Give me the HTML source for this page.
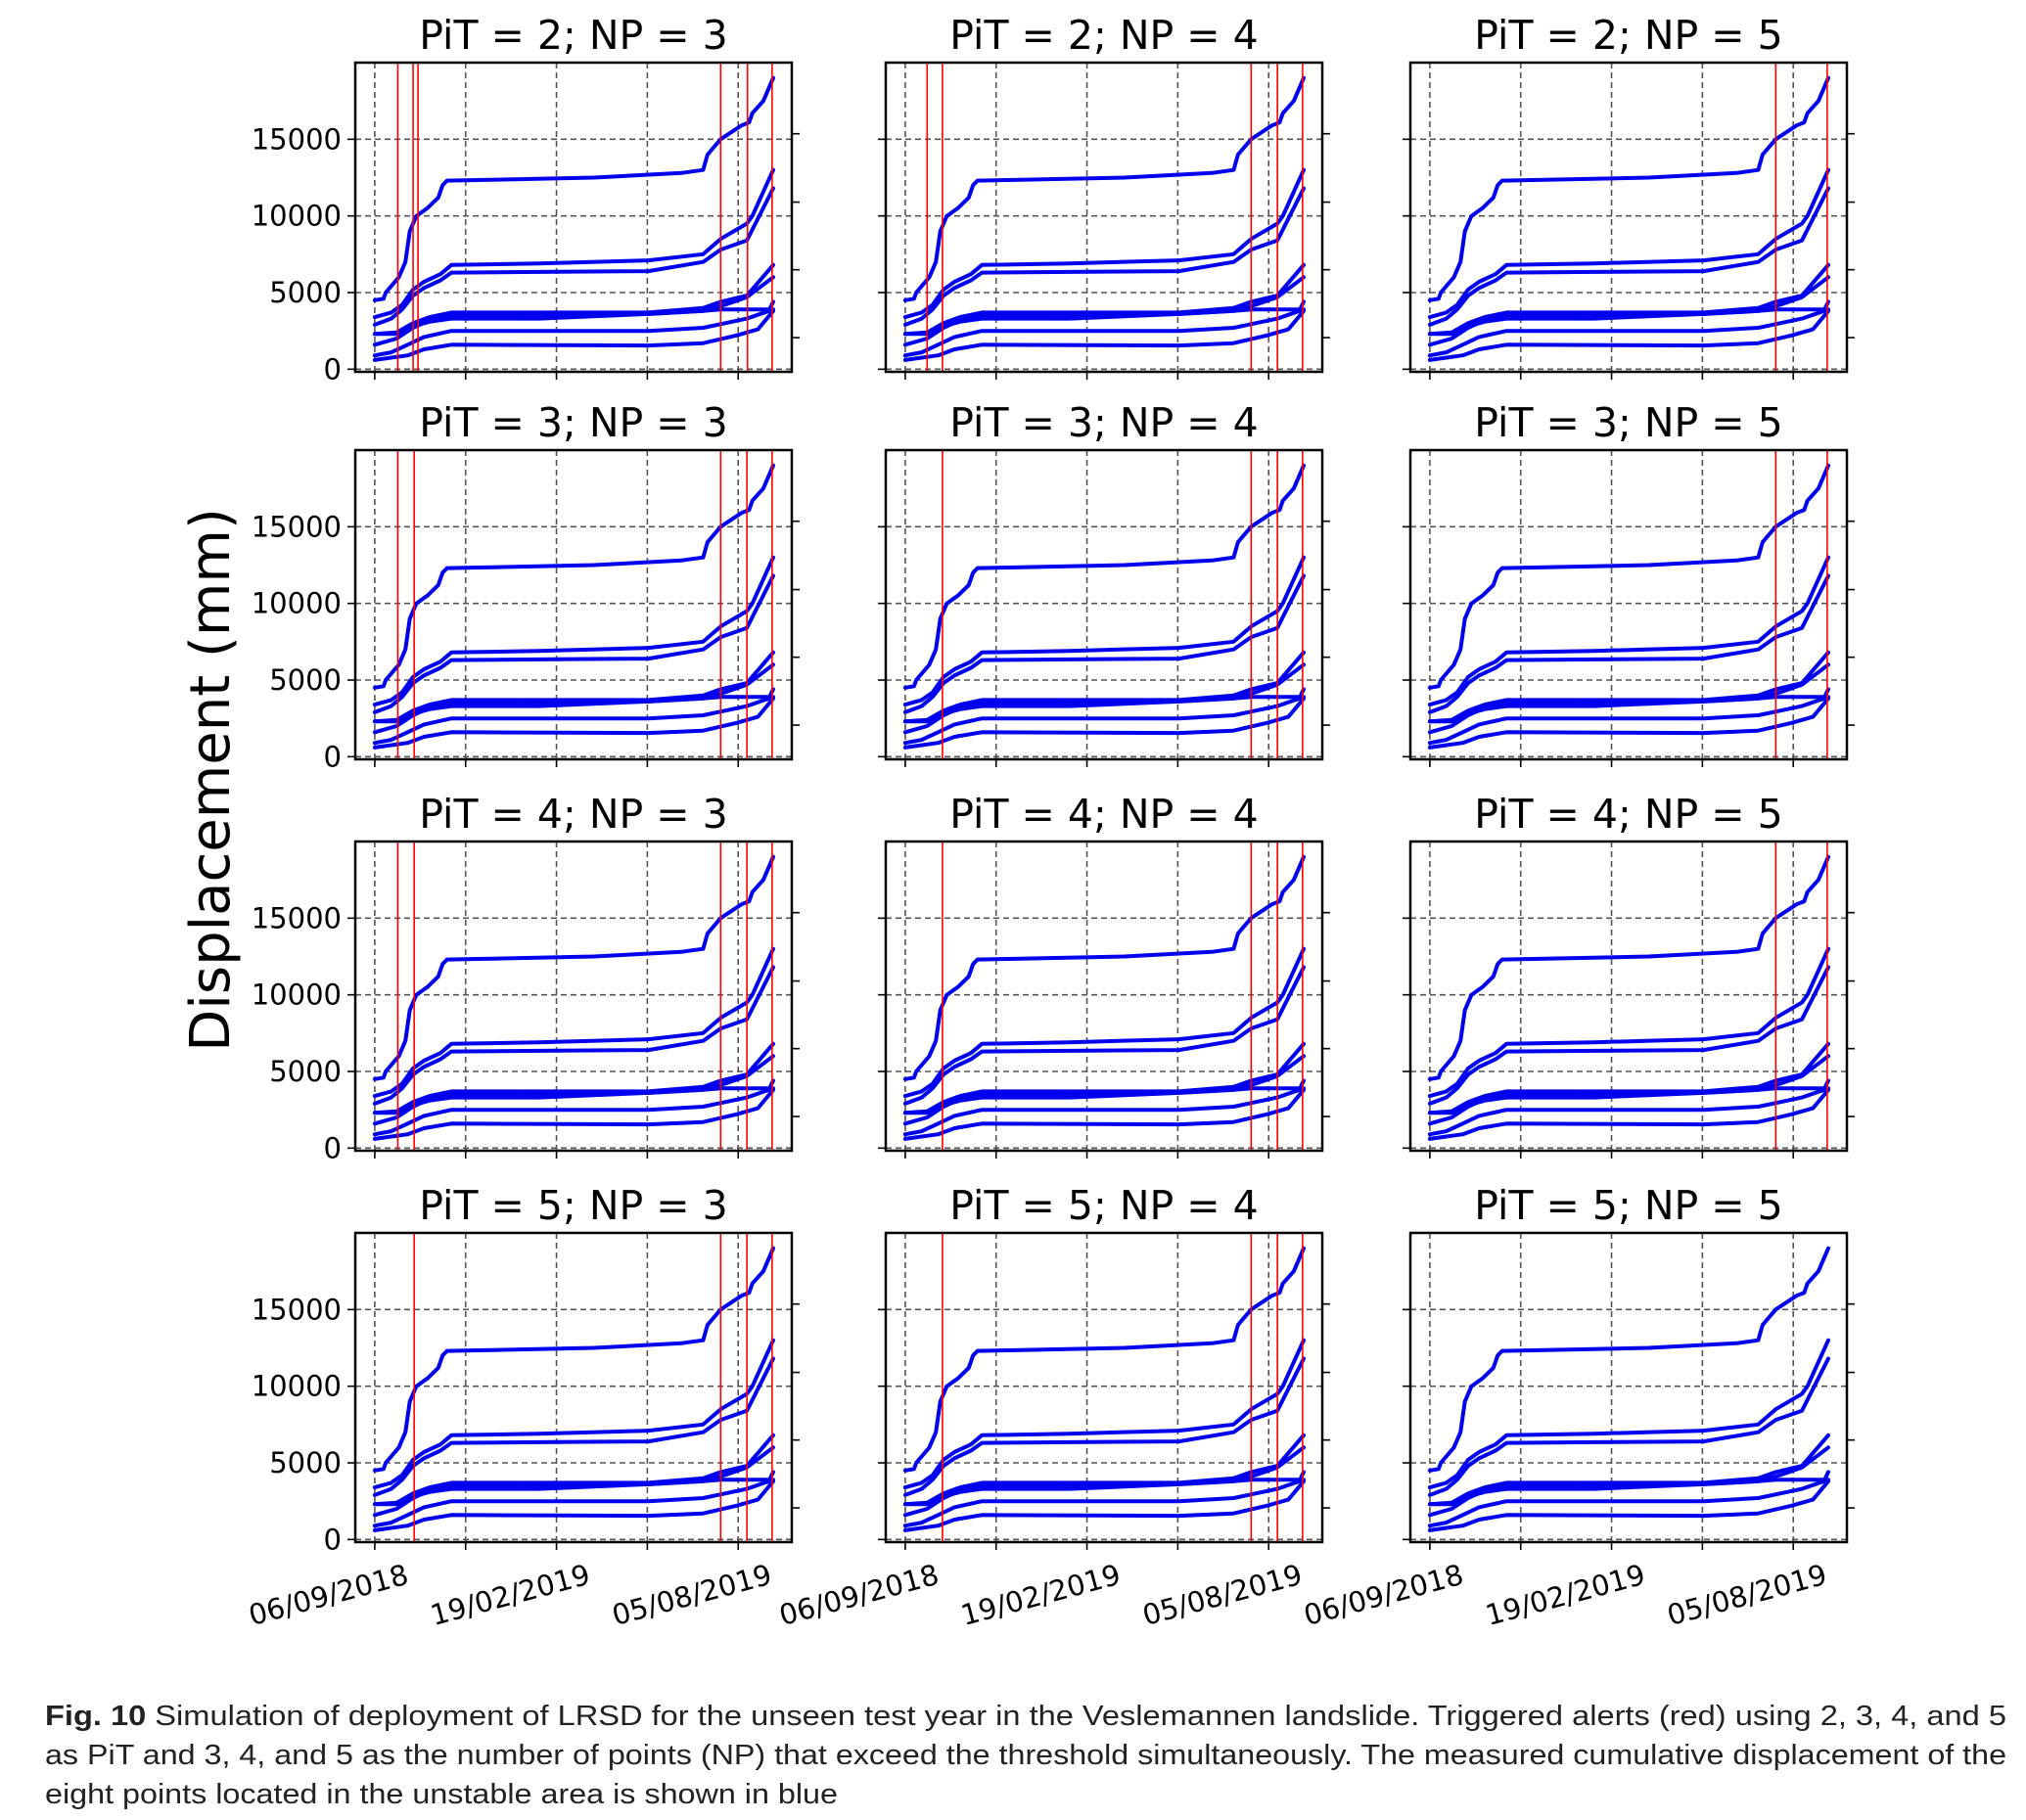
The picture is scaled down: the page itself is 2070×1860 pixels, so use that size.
<!DOCTYPE html>
<html><head><meta charset="utf-8">
<style>
html,body{margin:0;padding:0;background:#fff;}
svg{display:block;font-family:"Liberation Sans","DejaVu Sans",sans-serif;}
</style></head>
<body>
<svg id="fig" width="2070" height="1860" viewBox="0 0 2070 1860" xmlns="http://www.w3.org/2000/svg">
<text x="0" y="0" transform="translate(234,797) rotate(-90)" text-anchor="middle" font-size="56" font-family="DejaVu Sans, sans-serif">Displacement (mm)</text>
<g font-size="29" fill="#222">
<text x="46" y="1763" textLength="2004" lengthAdjust="spacingAndGlyphs"><tspan font-weight="bold">Fig. 10</tspan>  Simulation of deployment of LRSD for the unseen test year in the Veslemannen landslide. Triggered alerts (red) using 2, 3, 4, and 5</text>
<text x="46" y="1803" textLength="2004" lengthAdjust="spacingAndGlyphs">as PiT and 3, 4, and 5 as the number of points (NP) that exceed the threshold simultaneously. The measured cumulative displacement of the</text>
<text x="46" y="1843" textLength="810" lengthAdjust="spacingAndGlyphs">eight points located in the unstable area is shown in blue</text>
</g>
</svg>
<script>
const seriesDays = [
 [0,8,10,22,28,32,38,48,58,62,66,100,200,280,300,304,316,335,342,345,355,364],
 [0,15,25,35,45,60,70,150,250,300,316,340,345,364],
 [0,15,25,35,45,60,70,150,250,300,316,340,364],
 [0,20,35,50,70,150,250,300,316,340,364],
 [0,20,35,50,70,250,300,320,340,364],
 [0,20,35,50,70,150,250,300,316,364],
 [0,15,30,45,70,250,300,320,340,360,364],
 [0,30,45,70,250,300,330,350,364]
];
const seriesValues = [
 [4500,4600,5000,6000,7000,9000,10000,10500,11200,12000,12300,12350,12500,12800,13000,14000,15000,15900,16100,16700,17500,19000],
 [3400,3700,4200,5200,5700,6200,6800,6900,7100,7500,8500,9500,10000,13000],
 [2900,3300,3900,4800,5300,5800,6300,6350,6400,7000,7800,8400,11800],
 [2300,2400,3000,3400,3700,3700,3700,4000,4400,4800,6800],
 [1600,2000,2700,3200,3500,3600,3800,4200,4700,6000],
 [2300,2300,2800,3100,3300,3300,3600,3800,3900,3900],
 [900,1100,1600,2100,2500,2500,2700,3000,3300,3800,4400],
 [600,900,1300,1600,1550,1700,2200,2600,3800]
];
const pitValues = [2,3,4,5];
const npValues = [3,4,5];
const alertDays = [
 [[21,35,39.5,316,340.5,363],[20,34,316,340,363],[316,363]],
 [[21,36,316,340,363],[34,316,340,363],[316,363]],
 [[21,36,316,340,363],[34,316,340,363],[316,363]],
 [[36,316,340,363],[34,316,340,363],[]]
];
const yTicks = [0,5000,10000,15000];
const yTickLabels = ["0","5000","10000","15000"];
const xTicks = [0,83,166,249,332];
const xTickLabels = ["06/09/2018","","19/02/2019","","05/08/2019"];
const rightTicks = [2060,6490,10900,15360];

const NS="http://www.w3.org/2000/svg";
const svg=document.getElementById('fig');
const colLeft=[363,905,1441], rowTop=[64,460,860,1260], PW=446, PH=316;
const X0=-17.8, X1=381, Y0=-170, Y1=20000;
function mk(tag,attrs,parent){const e=document.createElementNS(NS,tag);for(const k in attrs)e.setAttribute(k,attrs[k]);(parent||svg).appendChild(e);return e;}

for(let r=0;r<4;r++){for(let c=0;c<3;c++){
 const L=colLeft[c],T=rowTop[r];
 const xs=d=>L+(d-X0)/(X1-X0)*PW;
 const ys=v=>T+PH-(v-Y0)/(Y1-Y0)*PH;
 const g=mk('g',{});
 
 
 const t=mk('text',{x:L+PW/2,y:T-14,'text-anchor':'middle','font-size':'41','font-family':'DejaVu Sans, sans-serif'},g);
 t.textContent='PiT = '+pitValues[r]+'; NP = '+npValues[c];
 
 
 yTicks.forEach((v,i)=>{
  const ln=mk('line',{x1:L,x2:L+PW,y1:ys(v),y2:ys(v),stroke:'#555','stroke-width':1.6,'stroke-dasharray':'6,4'},g);
  
  
  mk('line',{x1:L-8,x2:L,y1:ys(v),y2:ys(v),stroke:'#000','stroke-width':1.6},g);
  if(c===0){const tl=mk('text',{x:L-14,y:ys(v)+10,'text-anchor':'end','font-size':'29','font-family':'DejaVu Sans, sans-serif'},g);tl.textContent=yTickLabels[i];
   
   }
 });
 xTicks.forEach((d,i)=>{
  const ln=mk('line',{x1:xs(d),x2:xs(d),y1:T,y2:T+PH,stroke:'#555','stroke-width':1.6,'stroke-dasharray':'6,4'},g);
  
  
  mk('line',{x1:xs(d),x2:xs(d),y1:T+PH,y2:T+PH+8,stroke:'#000','stroke-width':1.6},g);
  if(r===3&&xTickLabels[i]){const tl=mk('text',{x:0,y:0,'text-anchor':'end','font-size':'29','font-family':'DejaVu Sans, sans-serif',transform:'translate('+(xs(d)+36)+','+(T+PH+42)+') rotate(-15)'},g);tl.textContent=xTickLabels[i];
   
   }
 });
 rightTicks.forEach(v=>{mk('line',{x1:L+PW,x2:L+PW+8,y1:ys(v),y2:ys(v),stroke:'#000','stroke-width':1.6},g);});
 seriesDays.forEach((ds,si)=>{
  const pts=ds.map((d,k)=>xs(d).toFixed(1)+','+ys(seriesValues[si][k]).toFixed(1)).join(' ');
  const pl=mk('polyline',{points:pts,fill:'none',stroke:'#0000ee','stroke-width':4,'stroke-linejoin':'round','stroke-linecap':'round'},g);
  
  
 });
 alertDays[r][c].forEach(d=>{
  const al=mk('line',{x1:xs(d),x2:xs(d),y1:T,y2:T+PH,stroke:'#ff0000','stroke-width':1.6},g);
  
  
 });
 const fr=mk('rect',{x:L,y:T,width:PW,height:PH,fill:'none',stroke:'#000','stroke-width':2.5},g);
 
 
}}
</script>
</body></html>
